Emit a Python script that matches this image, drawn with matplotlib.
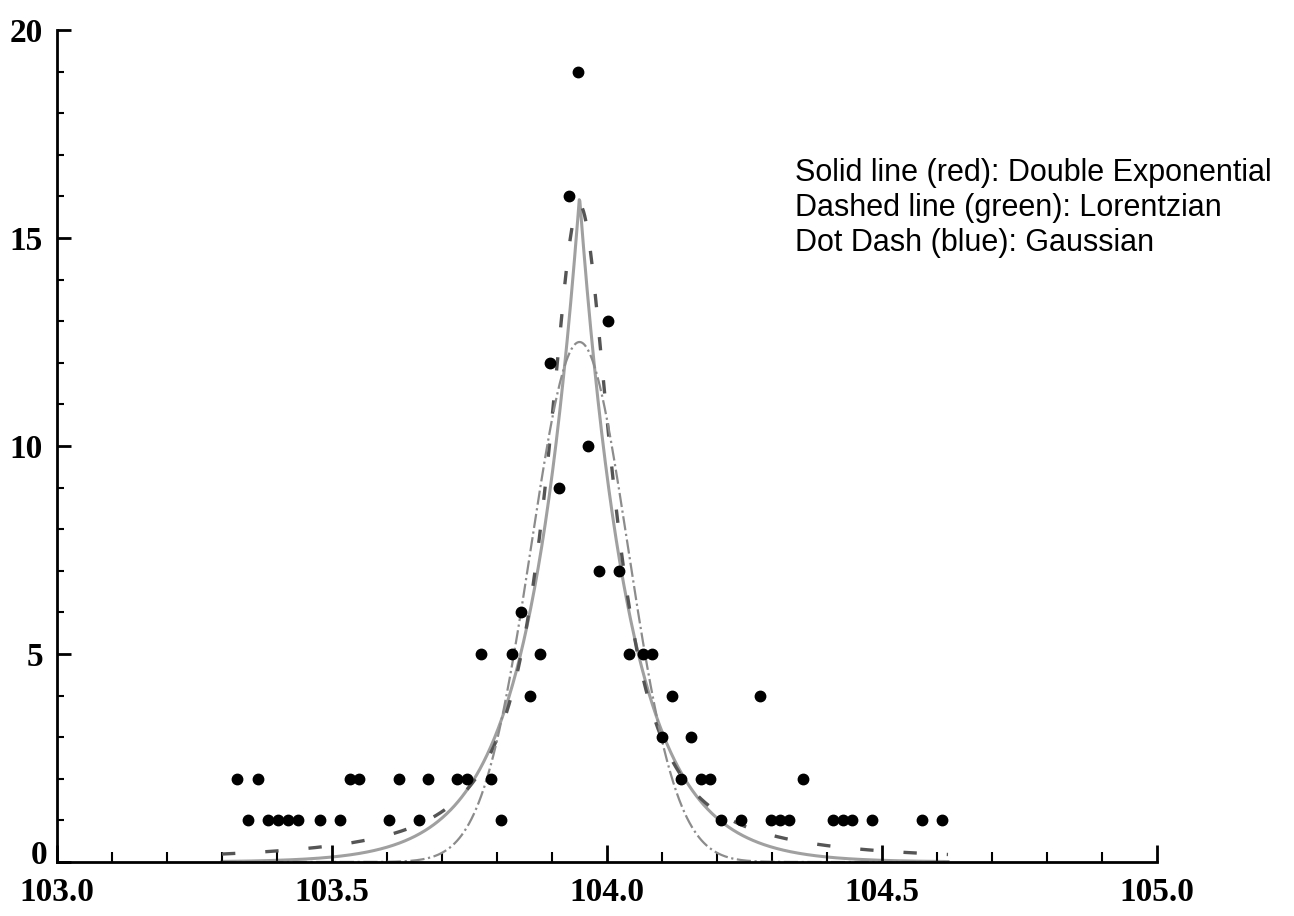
import numpy as np
import matplotlib.pyplot as plt
from matplotlib.ticker import MultipleLocator, FuncFormatter

# --- measured counts (x position, count) ---
x_pts = [
    103.347, 103.384, 103.402, 103.420, 103.438, 103.478, 103.515, 103.604, 103.658, 103.807,
    104.207, 104.244, 104.298, 104.315, 104.331, 104.411, 104.429, 104.445, 104.482, 104.573, 104.609,
    103.327, 103.365, 103.533, 103.549, 103.622, 103.675, 103.727, 103.745, 103.789,
    104.135, 104.171, 104.187, 104.356,
    104.100, 104.153,
    103.860, 104.118, 104.278,
    103.771, 103.827, 103.878, 104.040, 104.065, 104.082,
    103.844,
    103.985, 104.022,
    103.913,
    103.966,
    103.896,
    104.002,
    103.931,
    103.947,
]
y_pts = [1] * 21 + [2] * 13 + [3] * 2 + [4] * 3 + [5] * 6 + [6] + [7] * 2 + [9] + [10] + [12] + [13] + [16] + [19]

# --- fitted model parameters ---
x0 = 103.95
dexp_amp, dexp_scale = 16.0, 0.092      # double exponential
lor_amp, lor_gamma = 15.8, 0.072        # lorentzian
gau_amp, gau_sigma = 12.5, 0.088        # gaussian

legend_lines = [
    "Solid line (red): Double Exponential",
    "Dashed line (green): Lorentzian",
    "Dot Dash (blue): Gaussian",
]

xs = np.linspace(103.3, 104.62, 1200)
dexp = dexp_amp * np.exp(-np.abs(xs - x0) / dexp_scale)
lor = lor_amp / (1 + ((xs - x0) / lor_gamma) ** 2)
gau = gau_amp * np.exp(-((xs - x0) ** 2) / (2 * gau_sigma ** 2))

fig = plt.figure(figsize=(12.94, 9.16), dpi=100)
ax = fig.add_axes([57 / 1294, 54 / 916, 1100 / 1294, 832 / 916])

ax.plot(xs, dexp, color="#a0a0a0", linewidth=2.2, zorder=1)
ax.plot(xs, lor, color="#555555", linewidth=2.4, dashes=(4, 9), zorder=2)
ax.plot(xs, gau, color="#8c8c8c", linewidth=1.6, linestyle="-.", zorder=2)
ax.plot(x_pts, y_pts, "o", color="black", markersize=7.5, zorder=3)

ax.set_xlim(103.0, 105.0)
ax.set_ylim(0, 20)
ax.xaxis.set_major_locator(MultipleLocator(0.5))
ax.xaxis.set_minor_locator(MultipleLocator(0.1))
ax.yaxis.set_major_locator(MultipleLocator(5))
ax.yaxis.set_minor_locator(MultipleLocator(1))
ax.xaxis.set_major_formatter(plt.FormatStrFormatter("%.1f"))
# zero is written separately, a little above the axis line
ax.yaxis.set_major_formatter(FuncFormatter(lambda v, p: "" if v == 0 else f"{v:.0f}"))

for side in ["top", "right"]:
    ax.spines[side].set_visible(False)
for side in ["left", "bottom"]:
    ax.spines[side].set_linewidth(2)

tick_font = dict(family="Liberation Serif", weight="bold", size=24)
ax.tick_params(axis="x", which="major", direction="in", length=12, width=2, pad=11)
ax.tick_params(axis="x", which="minor", direction="in", length=7, width=1.5)
ax.tick_params(axis="y", which="major", direction="in", length=10, width=2, pad=10)
ax.tick_params(axis="y", which="minor", direction="in", length=5, width=1.5)
for lab in ax.get_xticklabels() + ax.get_yticklabels():
    lab.set_fontproperties(tick_font)

ax.annotate("0", xy=(0, 0), xycoords="axes fraction", xytext=(-7, 5),
            textcoords="offset points", ha="right", va="center", **tick_font)

for i, line in enumerate(legend_lines):
    fig.text(795 / 1294, 1 - (173 + 35 * i) / 916, line, family="Liberation Sans",
             fontsize=22, va="center", ha="left")

fig.savefig("out.png", dpi=100)
